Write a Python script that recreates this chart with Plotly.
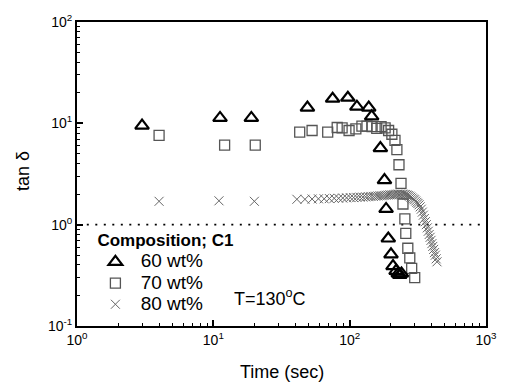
import plotly.graph_objects as go

# ---- data ----
t60 = [3.0, 11.2, 19.0, 49, 75, 97, 113, 138, 145, 168, 180, 185, 192, 201, 208, 219, 227, 233, 240]
v60 = [9.5, 11.3, 11.3, 14.3, 17.5, 17.9, 14.6, 14.3, 11.7, 5.7, 2.75, 1.43, 0.73, 0.51, 0.39, 0.35, 0.33, 0.32, 0.33]

t70 = [4.0, 12.1, 20.3, 43, 53, 69, 81, 88, 99, 111, 123, 134, 146, 158, 170, 182, 193, 204,
       215, 222, 230, 238, 246, 254, 258, 267, 276, 285, 300]
v70 = [7.6, 6.1, 6.1, 8.2, 8.5, 8.2, 9.1, 9.0, 8.5, 8.8, 9.4, 9.4, 9.3, 8.9, 9.3, 9.0, 8.5, 7.8,
       6.8, 5.5, 3.9, 2.55, 1.6, 1.14, 0.82, 0.585, 0.47, 0.37, 0.30]

t80 = [4.0, 11.0, 20.0,
       41, 47, 53, 59, 65, 71, 77, 83, 89, 95, 101, 107, 113, 119, 125, 131, 137, 143, 149, 155,
       161, 167, 173, 179, 185, 191, 197, 203, 209, 215, 221, 227, 233, 239, 245, 251, 257, 263,
       269, 275, 281, 287, 293, 299, 305, 311, 317, 323, 329, 335, 341, 347, 353, 359, 365, 371,
       377, 383, 389, 395, 401, 407, 413, 419, 425, 431, 437]
v80 = [1.7, 1.72, 1.7,
       1.78, 1.78, 1.79, 1.80, 1.80, 1.81, 1.82, 1.82, 1.83, 1.84, 1.85, 1.85, 1.86, 1.87, 1.87,
       1.88, 1.89, 1.90, 1.90, 1.91, 1.92, 1.93, 1.93, 1.94, 1.95, 1.96, 1.97, 1.97, 1.98, 1.99,
       2.0, 2.0, 2.0, 2.0, 2.0, 1.99, 1.98, 1.96, 1.94, 1.91, 1.87, 1.83, 1.79, 1.76, 1.71, 1.66,
       1.62, 1.57, 1.50, 1.42, 1.33, 1.24, 1.15, 1.07, 1.00, 0.93, 0.86, 0.80, 0.75, 0.70, 0.65,
       0.61, 0.57, 0.53, 0.50, 0.46, 0.43]

ref_x = [1.18, 907]
ref_y = [1, 1]

series_names = ["60 wt%", "70 wt%", "80 wt%"]
legend_title = "Composition; C1"
temp_label = "T=130<sup>o</sup>C"
x_title = "Time (sec)"
y_title = "tan δ"

x_ticks = [1, 10, 100, 1000]
x_ticktext = ["10<sup>0</sup>", "10<sup>1</sup>", "10<sup>2</sup>", "10<sup>3</sup>"]
y_ticks = [0.1, 1, 10, 100]
y_ticktext = ["10<sup>-1</sup>", "10<sup>0</sup>", "10<sup>1</sup>", "10<sup>2</sup>"]

FONT = "Liberation Sans, Arial, sans-serif"


def entry(name):
    return '<span style="font-size:19px">&nbsp;' + name + '</span>'


fig = go.Figure()

fig.add_trace(go.Scatter(x=ref_x, y=ref_y, mode="lines", showlegend=False, hoverinfo="skip",
                         line=dict(color="black", width=1.6, dash="2px,6.5px")))

fig.add_trace(go.Scatter(x=t80, y=v80, mode="markers", name=entry(series_names[2]), legendrank=3,
                         marker=dict(symbol="x-thin-open", size=9, color="#666",
                                     line=dict(width=1, color="#666"))))
fig.add_trace(go.Scatter(x=t70, y=v70, mode="markers", name=entry(series_names[1]), legendrank=2,
                         marker=dict(symbol="square-open", size=10, color="#555",
                                     line=dict(width=1.3, color="#555"))))
fig.add_trace(go.Scatter(x=t60, y=v60, mode="markers", name=entry(series_names[0]), legendrank=1,
                         marker=dict(symbol="triangle-up-open", size=12, color="black",
                                     line=dict(width=2.2, color="black"))))

minor_x = [m * 10 ** d for d in range(0, 3) for m in range(2, 10)]
minor_y = [m * 10 ** d for d in range(-1, 2) for m in range(2, 10)]

fig.update_xaxes(type="log", range=[0, 3], tickvals=x_ticks, ticktext=x_ticktext,
                 ticks="inside", ticklen=6, tickwidth=1.5, tickcolor="black",
                 showline=True, linewidth=2, linecolor="black", mirror=True,
                 showgrid=False, zeroline=False,
                 minor=dict(tickvals=minor_x, ticks="inside", ticklen=3, tickwidth=1.2,
                            tickcolor="black", showgrid=False),
                 tickfont=dict(family=FONT, size=14, color="black"))
fig.update_yaxes(type="log", range=[-1, 2], tickvals=y_ticks, ticktext=y_ticktext,
                 ticks="inside", ticklen=6, tickwidth=1.5, tickcolor="black",
                 showline=True, linewidth=2, linecolor="black", mirror=True,
                 showgrid=False, zeroline=False,
                 minor=dict(tickvals=minor_y, ticks="inside", ticklen=3, tickwidth=1.2,
                            tickcolor="black", showgrid=False),
                 tickfont=dict(family=FONT, size=14, color="black"))

# axis titles
fig.add_annotation(text=x_title, xref="paper", yref="paper", x=0.502, y=-0.152,
                   xanchor="center", yanchor="middle", showarrow=False,
                   font=dict(family=FONT, size=18, color="black"))
fig.add_annotation(text=y_title, xref="paper", yref="paper", x=-0.132, y=0.51,
                   xanchor="center", yanchor="middle", showarrow=False, textangle=-90,
                   font=dict(family=FONT, size=18, color="black"))

fig.add_annotation(text=temp_label, xref="paper", yref="paper", x=0.378, y=0.094,
                   xanchor="left", yanchor="middle", showarrow=False,
                   font=dict(family=FONT, size=18, color="black"))

fig.update_layout(
    width=509, height=386,
    margin=dict(l=77, r=14, t=17, b=60),
    paper_bgcolor="white", plot_bgcolor="white",
    font=dict(family=FONT, color="black"),
    legend=dict(title=dict(text="<b>" + legend_title + "</b>", font=dict(family=FONT, size=17)),
                font=dict(family=FONT, size=14, color="black"),
                x=0.045, y=0.335, xanchor="left", yanchor="top",
                bgcolor="rgba(0,0,0,0)", tracegroupgap=0, itemwidth=30),
)

fig.write_html("out.html")
